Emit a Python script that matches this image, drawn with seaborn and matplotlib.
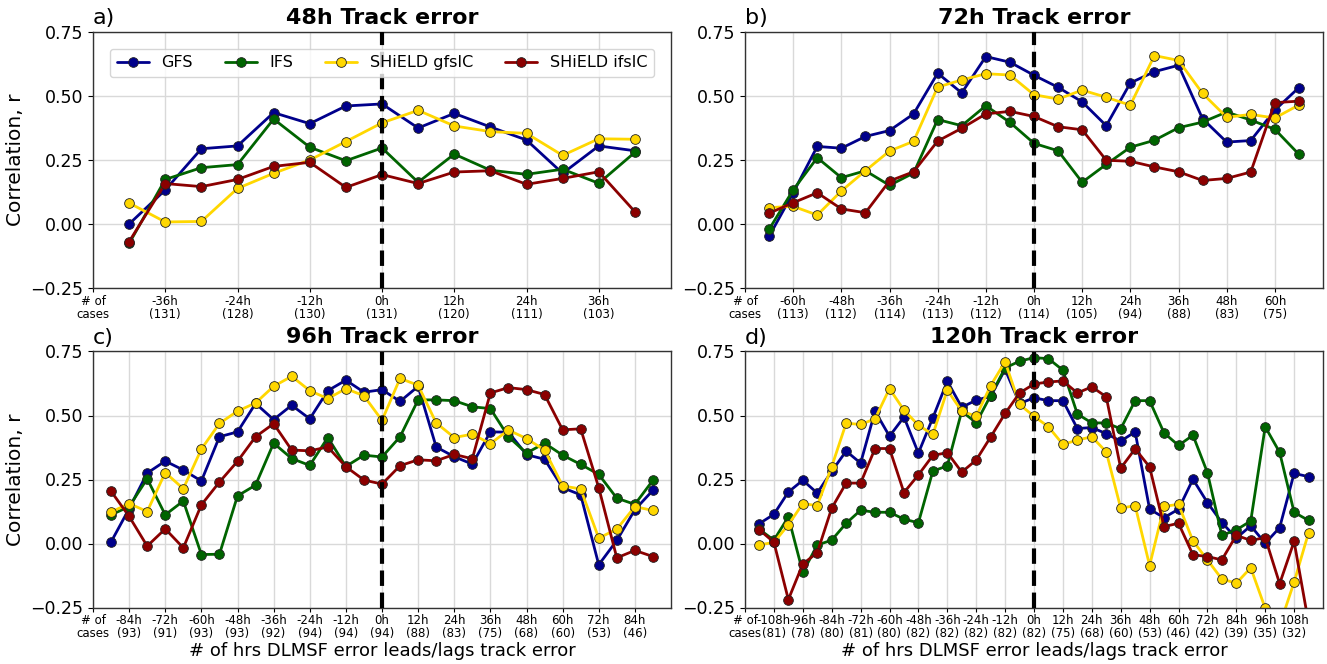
import matplotlib
matplotlib.use("Agg")
import matplotlib.pyplot as plt
import seaborn as sns
import pandas as pd

# ---------------- data ----------------
series_names = ["GFS", "IFS", "SHiELD gfsIC", "SHiELD ifsIC"]
series_colors = ["#00008B", "#006400", "#FFD700", "#8B0000"]

titles = ["48h Track error", "72h Track error", "96h Track error", "120h Track error"]
panel_labels = ["a)", "b)", "c)", "d)"]

# panel a (48h)
lags_a = [-42, -36, -30, -24, -18, -12, -6, 0, 6, 12, 18, 24, 30, 36, 42]
gfs_a = [0.00, 0.133, 0.294, 0.305, 0.435, 0.392, 0.461, 0.469, 0.375, 0.432, 0.379, 0.328, 0.198, 0.305, 0.286]
ifs_a = [-0.076, 0.174, 0.22, 0.232, 0.41, 0.30, 0.247, 0.297, 0.163, 0.273, 0.21, 0.194, 0.214, 0.159, 0.28]
sgfs_a = [0.082, 0.008, 0.010, 0.139, 0.198, 0.25, 0.322, 0.395, 0.444, 0.383, 0.361, 0.354, 0.268, 0.333, 0.331]
sifs_a = [-0.069, 0.158, 0.146, 0.174, 0.225, 0.241, 0.143, 0.193, 0.158, 0.203, 0.208, 0.155, 0.178, 0.204, 0.048]
ticks_a = [-48, -36, -24, -12, 0, 12, 24, 36]
ticklabels_a = ["# of\ncases", "-36h\n(131)", "-24h\n(128)", "-12h\n(130)", "0h\n(131)",
                "12h\n(120)", "24h\n(111)", "36h\n(103)"]

# panel b (72h)
lags_b = [-66, -60, -54, -48, -42, -36, -30, -24, -18, -12, -6, 0, 6, 12, 18, 24, 30, 36, 42, 48, 54, 60, 66]
gfs_b = [-0.048, 0.122, 0.303, 0.296, 0.342, 0.365, 0.43, 0.589, 0.512, 0.654, 0.632, 0.581, 0.534,
         0.477, 0.384, 0.551, 0.595, 0.62, 0.411, 0.32, 0.326, 0.445, 0.533]
ifs_b = [-0.021, 0.133, 0.259, 0.181, 0.208, 0.151, 0.199, 0.408, 0.384, 0.462, 0.397, 0.315, 0.286,
         0.163, 0.233, 0.30, 0.327, 0.376, 0.398, 0.4375, 0.406, 0.37, 0.272]
sgfs_b = [0.064, 0.069, 0.035, 0.129, 0.208, 0.285, 0.323, 0.535, 0.5625, 0.587, 0.582, 0.505, 0.488,
          0.523, 0.495, 0.464, 0.658, 0.639, 0.51, 0.417, 0.428, 0.414, 0.465]
sifs_b = [0.042, 0.083, 0.122, 0.059, 0.044, 0.168, 0.204, 0.324, 0.374, 0.43, 0.44, 0.42, 0.38,
          0.368, 0.249, 0.245, 0.223, 0.204, 0.17, 0.178, 0.203, 0.474, 0.48]
ticks_b = [-72, -60, -48, -36, -24, -12, 0, 12, 24, 36, 48, 60]
ticklabels_b = ["# of\ncases", "-60h\n(113)", "-48h\n(112)", "-36h\n(114)", "-24h\n(113)", "-12h\n(112)",
                "0h\n(114)", "12h\n(105)", "24h\n(94)", "36h\n(88)", "48h\n(83)", "60h\n(75)"]

# panel c (96h)
lags_c = [-90, -84, -78, -72, -66, -60, -54, -48, -42, -36, -30, -24, -18, -12, -6, 0,
          6, 12, 18, 24, 30, 36, 42, 48, 54, 60, 66, 72, 78, 84, 90]
gfs_c = [0.006, 0.136, 0.275, 0.322, 0.287, 0.244, 0.417, 0.436, 0.547, 0.484,
         0.54, 0.487, 0.597, 0.638, 0.591, 0.601, 0.555, 0.614, 0.377, 0.339, 0.31,
         0.436, 0.435, 0.347, 0.329, 0.218, 0.19, -0.083, 0.012, 0.132, 0.208]
ifs_c = [0.112, 0.144, 0.253, 0.112, 0.166, -0.043, -0.042, 0.186, 0.228, 0.392,
         0.332, 0.305, 0.414, 0.301, 0.345, 0.338, 0.417, 0.561, 0.561, 0.558, 0.534,
         0.527, 0.417, 0.353, 0.392, 0.345, 0.309, 0.27, 0.177, 0.153, 0.247]
sgfs_c = [0.123, 0.156, 0.125, 0.277, 0.214, 0.369, 0.469, 0.517, 0.549, 0.614,
          0.653, 0.597, 0.566, 0.605, 0.577, 0.481, 0.645, 0.618, 0.471, 0.414, 0.427,
          0.39, 0.443, 0.41, 0.365, 0.225, 0.213, 0.021, 0.056, 0.144, 0.129]
sifs_c = [0.204, 0.106, -0.01, 0.057, -0.017, 0.151, 0.24, 0.321, 0.417, 0.468,
          0.365, 0.362, 0.377, 0.30, 0.248, 0.232, 0.304, 0.327, 0.323, 0.348, 0.331,
          0.588, 0.609, 0.601, 0.582, 0.444, 0.448, 0.218, -0.056, -0.027, -0.051]
ticks_c = [-96, -84, -72, -60, -48, -36, -24, -12, 0, 12, 24, 36, 48, 60, 72, 84]
ticklabels_c = ["# of\ncases", "-84h\n(93)", "-72h\n(91)", "-60h\n(93)", "-48h\n(93)", "-36h\n(92)",
                "-24h\n(94)", "-12h\n(94)", "0h\n(94)", "12h\n(88)", "24h\n(83)", "36h\n(75)",
                "48h\n(68)", "60h\n(60)", "72h\n(53)", "84h\n(46)"]

# panel d (120h)
lags_d = [-114, -108, -102, -96, -90, -84, -78, -72, -66, -60, -54, -48,
          -42, -36, -30, -24, -18, -12, -6, 0, 6, 12, 18, 24, 30, 36,
          42, 48, 54, 60, 66, 72, 78, 84, 90, 96, 102, 108, 114]
gfs_d = [0.078, 0.114, 0.201, 0.247, 0.197, 0.282, 0.361, 0.314, 0.517, 0.419, 0.494, 0.353,
         0.491, 0.634, 0.532, 0.56, 0.575, 0.68, 0.547, 0.569, 0.558, 0.558, 0.449, 0.453, 0.429, 0.40,
         0.436, 0.134, 0.101, 0.134, 0.251, 0.16, 0.082, 0.021, 0.069, 0.001, 0.062, 0.274, 0.261]
ifs_d = [0.055, 0.013, 0.104, -0.113, -0.006, 0.013, 0.079, 0.13, 0.122, 0.122, 0.095, 0.081,
         0.283, 0.303, 0.517, 0.471, 0.578, 0.686, 0.712, 0.726, 0.722, 0.677, 0.506, 0.471, 0.471, 0.448,
         0.558, 0.558, 0.432, 0.383, 0.423, 0.277, 0.032, 0.053, 0.088, 0.456, 0.356, 0.122, 0.09]
sgfs_d = [-0.005, 0.004, 0.073, 0.156, 0.148, 0.30, 0.47, 0.465, 0.487, 0.605, 0.521, 0.462,
          0.426, 0.599, 0.517, 0.497, 0.617, 0.71, 0.543, 0.497, 0.456, 0.387, 0.404, 0.417, 0.358, 0.138,
          0.148, -0.086, 0.145, 0.153, 0.01, -0.064, -0.139, -0.155, -0.095, -0.253, -0.32, -0.151, 0.042]
sifs_d = [0.053, 0.005, -0.219, -0.08, -0.036, 0.138, 0.236, 0.236, 0.371, 0.371, 0.199, 0.268,
          0.344, 0.355, 0.279, 0.326, 0.416, 0.508, 0.588, 0.623, 0.631, 0.635, 0.588, 0.612, 0.573, 0.294,
          0.37, 0.299, 0.066, 0.079, -0.044, -0.051, -0.064, 0.032, 0.012, 0.023, -0.157, 0.008, -0.31]
ticks_d = [-120, -108, -96, -84, -72, -60, -48, -36, -24, -12, 0, 12, 24, 36, 48, 60, 72, 84, 96, 108]
ticklabels_d = ["# of\ncases", "-108h\n(81)", "-96h\n(78)", "-84h\n(80)", "-72h\n(81)", "-60h\n(80)",
                "-48h\n(82)", "-36h\n(82)", "-24h\n(82)", "-12h\n(82)", "0h\n(82)", "12h\n(75)",
                "24h\n(68)", "36h\n(60)", "48h\n(53)", "60h\n(46)", "72h\n(42)", "84h\n(39)",
                "96h\n(35)", "108h\n(32)"]

yticks = [-0.25, 0.0, 0.25, 0.50, 0.75]
xlabel_text = "# of hrs DLMSF error leads/lags track error"
ylabel_text = "Correlation, r"

# ---------------- figure ----------------
sns.set_style("ticks")
plt.rcParams["font.family"] = ["DejaVu Sans"]
plt.rcParams["text.color"] = "black"
plt.rcParams["axes.labelcolor"] = "black"
plt.rcParams["xtick.color"] = "black"
plt.rcParams["ytick.color"] = "black"

fig = plt.figure(figsize=(13.27, 6.64), dpi=100)
W, H = 1327, 664
positions = [
    [93 / W, 1 - 288 / H, 578 / W, 256 / H],
    [745 / W, 1 - 288 / H, 578 / W, 256 / H],
    [93 / W, 1 - 607.5 / H, 578 / W, 256 / H],
    [745 / W, 1 - 607.5 / H, 578 / W, 256 / H],
]

panels = [
    (lags_a, [gfs_a, ifs_a, sgfs_a, sifs_a], ticks_a, ticklabels_a, 48),
    (lags_b, [gfs_b, ifs_b, sgfs_b, sifs_b], ticks_b, ticklabels_b, 72),
    (lags_c, [gfs_c, ifs_c, sgfs_c, sifs_c], ticks_c, ticklabels_c, 96),
    (lags_d, [gfs_d, ifs_d, sgfs_d, sifs_d], ticks_d, ticklabels_d, 120),
]

for i, (lags, vals, ticks, tlabels, half) in enumerate(panels):
    ax = fig.add_axes(positions[i])
    handles = []
    for name, col, v in zip(series_names, series_colors, vals):
        df = pd.DataFrame({"lag": lags, "r": v})
        sns.lineplot(data=df, x="lag", y="r", ax=ax, color=col, linewidth=2,
                     marker="o", markersize=7, markeredgecolor="#222222",
                     markeredgewidth=0.6, legend=False)
        ln = ax.lines[-1]
        ln.set_label(name)
        handles.append(ln)
    ax.axvline(0, color="black", linestyle="--", linewidth=3, zorder=5)
    ax.set_xlim(-half, half)
    ax.set_ylim(-0.25, 0.75)
    ax.set_xticks(ticks)
    ax.set_xticklabels(tlabels, fontsize=8.5, linespacing=1.0)
    ax.tick_params(axis="x", length=3, pad=2)
    ax.set_yticks(yticks)
    ax.tick_params(axis="y", labelsize=12.5)
    ax.grid(True, color="#d9d9d9", linewidth=1)
    ax.set_axisbelow(True)
    for sp in ax.spines.values():
        sp.set_visible(True)
        sp.set_color("#333333")
        sp.set_linewidth(1)
    ax.set_title(titles[i], fontsize=16, fontweight="bold", pad=6)
    ax.text(0.0, 1.015, panel_labels[i], transform=ax.transAxes, ha="left",
            va="bottom", fontsize=16)
    if i in (0, 2):
        ax.set_ylabel(ylabel_text, fontsize=14.5)
    else:
        ax.set_ylabel("")
    if i in (2, 3):
        ax.set_xlabel(xlabel_text, fontsize=13, labelpad=1)
    else:
        ax.set_xlabel("")
    if i == 0:
        ax.legend(handles=handles, labels=series_names, loc="upper center",
                  bbox_to_anchor=(0.5, 0.965), ncol=4, fontsize=11.5,
                  frameon=True, columnspacing=2.0)

fig.savefig("out.png", dpi=100)
